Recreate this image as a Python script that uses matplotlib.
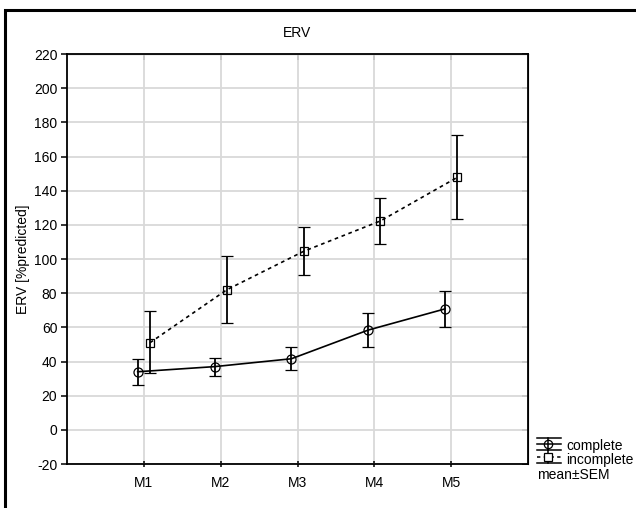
import matplotlib
matplotlib.use("Agg")
import matplotlib.pyplot as plt
from matplotlib.lines import Line2D
from matplotlib.patches import Rectangle
import numpy as np

plt.rcParams['font.family'] = ['Liberation Sans', 'DejaVu Sans']

categories = ["M1", "M2", "M3", "M4", "M5"]
complete_mean = [34.0, 37.0, 41.6, 58.4, 70.8]
complete_low = [26.5, 31.7, 34.9, 48.4, 60.0]
complete_high = [41.4, 42.2, 48.2, 68.6, 81.5]
incomplete_mean = [51.0, 82.0, 104.5, 122.3, 147.8]
incomplete_low = [33.1, 62.4, 90.4, 108.6, 123.3]
incomplete_high = [69.4, 102.0, 118.8, 135.9, 172.5]
yticks = list(range(-20, 221, 20))

FS = 10

fig = plt.figure(figsize=(6.36, 5.08), dpi=100)
ax = fig.add_axes([67/636, 1-464/508, (528-67)/636, (464-54)/508])

x = np.arange(1, len(categories) + 1)
off = 0.08
cm = np.array(complete_mean); il = np.array(incomplete_mean)
cerr = [cm - np.array(complete_low), np.array(complete_high) - cm]
ierr = [il - np.array(incomplete_low), np.array(incomplete_high) - il]

ax.errorbar(x - off, cm, yerr=cerr, color='black', lw=1.2, marker='o', ms=6.5,
            mfc='none', mec='black', mew=0.9, capsize=4, capthick=1.2,
            elinewidth=1.3, zorder=3)
ax.errorbar(x + off, il, yerr=ierr, color='black', lw=1.2, ls=(0, (2.2, 2.2)),
            marker='s', ms=6, mfc='none', mec='black', mew=0.9, capsize=4,
            capthick=1.2, elinewidth=1.3, zorder=3)

ax.set_xlim(0, 6)
ax.set_ylim(-20, 220)
ax.set_xticks(x)
ax.set_xticklabels(categories, fontsize=FS)
ax.set_yticks(yticks)
ax.set_yticklabels([str(t) for t in yticks], fontsize=FS)
ax.grid(True, color='#d9d9d9', lw=1.3)
ax.set_axisbelow(True)
for s in ax.spines.values():
    s.set_linewidth(1.3)
ax.tick_params(axis='y', which='both', direction='out', length=4, width=1.1,
               right=False, pad=3)
ax.tick_params(axis='x', direction='inout', length=5, width=1.1, top=False,
               pad=6)
ax.set_title("ERV", fontsize=FS, pad=12)
ax.set_ylabel("ERV [%predicted]", fontsize=FS, labelpad=3)

ax2 = ax.secondary_yaxis('right')
ax2.set_yticks(yticks)
ax2.tick_params(direction='in', length=4, width=1.1, labelright=False)
ax3 = ax.secondary_xaxis('top')
ax3.set_xticks(x)
ax3.tick_params(direction='in', length=4, width=1.1, labeltop=False)

# figure border
fig.add_artist(Rectangle((5/636, -0.1), 1.1, 1 - 10/508 + 0.1, transform=fig.transFigure,
                         fill=False, ec='black', lw=2.2))

# manual legend
def fx(px):
    return px / 636
def fy(py):
    return 1 - py / 508

x0, x1, xc = 537, 561, 548
for yy in (438, 450, 463):
    fig.add_artist(Line2D([fx(x0), fx(x1)], [fy(yy), fy(yy)], color='black', lw=1.1))
fig.add_artist(Line2D([fx(x0), fx(x1)], [fy(444), fy(444)], color='black', lw=1.1))
fig.add_artist(Line2D([fx(xc), fx(xc)], [fy(438), fy(450)], color='black', lw=1.1))
fig.add_artist(Line2D([fx(xc)], [fy(444)], marker='o', ms=6, mfc='none', mec='black', mew=0.9))
fig.add_artist(Line2D([fx(x0), fx(x1)], [fy(457), fy(457)], color='black', lw=1.1, ls=(0, (2.2, 2.2))))
fig.add_artist(Line2D([fx(xc), fx(xc)], [fy(450), fy(463)], color='black', lw=1.1))
fig.add_artist(Line2D([fx(xc)], [fy(457)], marker='s', ms=5.5, mfc='white', mec='black', mew=0.9))
fig.text(fx(566), fy(446), "complete", fontsize=FS, va='center', ha='left')
fig.text(fx(566), fy(460), "incomplete", fontsize=FS, va='center', ha='left')
fig.text(fx(537), fy(475), "mean±SEM", fontsize=FS, va='center', ha='left')

fig.savefig("out.png", dpi=100)
